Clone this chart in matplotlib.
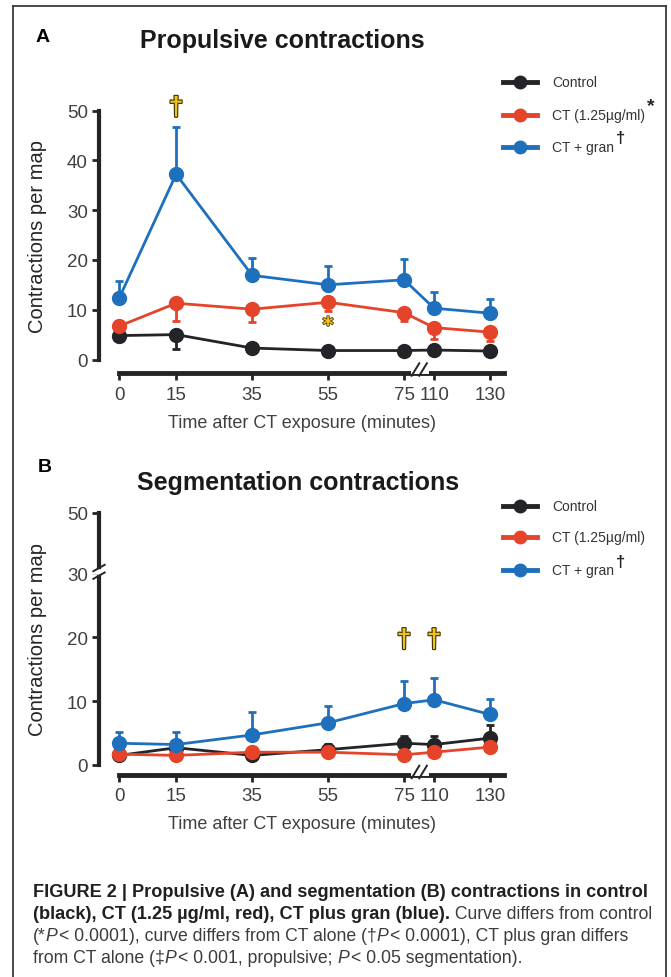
import matplotlib
matplotlib.use("Agg")
import matplotlib.pyplot as plt
import matplotlib.patheffects as pe
from matplotlib.lines import Line2D

# --- data -------------------------------------------------------------
time_labels = ["0", "15", "35", "55", "75", "110", "130"]

# propulsive contractions (panel A)
prop_control = [4.8, 5.0, 2.3, 1.8, 1.8, 1.9, 1.7]
prop_control_err = [0.4, 2.9, 0.3, 0.3, 0.3, 0.3, 0.6]
prop_ct = [6.7, 11.3, 10.1, 11.5, 9.4, 6.4, 5.5]
prop_ct_err = [1.1, 3.6, 2.6, 1.8, 1.7, 2.3, 1.8]
prop_gran = [12.3, 37.2, 16.9, 15.0, 16.0, 10.3, 9.3]
prop_gran_err = [3.5, 9.4, 3.5, 3.7, 4.1, 3.3, 2.8]

# segmentation contractions (panel B)
seg_control = [1.5, 2.7, 1.5, 2.4, 3.4, 3.2, 4.2]
seg_control_err = [0.2, 0.3, 0.2, 0.9, 1.2, 1.4, 2.1]
seg_ct = [1.7, 1.5, 2.0, 2.0, 1.6, 2.0, 2.8]
seg_ct_err = [0.2, 0.2, 0.2, 0.3, 0.2, 0.3, 0.4]
seg_gran = [3.4, 3.2, 4.7, 6.6, 9.6, 10.2, 7.9]
seg_gran_err = [1.8, 1.9, 3.6, 2.6, 3.6, 3.4, 2.4]

# --- layout helpers -----------------------------------------------------
W, H = 671, 978
XPOS = [0, 15, 35, 55, 75, 82.9, 97.6]   # broken time axis (after 75)
BLACK, RED, BLUE, GOLD = "#222428", "#e5432a", "#1e70bd", "#f2c21b"
SANS = ["Liberation Sans", "DejaVu Sans"]
GREY = "#404040"


def fx(x):
    return x / W


def fy(y):
    return 1 - y / H


fig = plt.figure(figsize=(W / 100, H / 100), dpi=100)
renderer = fig.canvas.get_renderer()

# figure frame
for xs, ys in [([13, 13], [7, H + 5]), ([13, 666], [7, 7]), ([666, 666], [7, H + 5])]:
    fig.add_artist(Line2D([fx(v) for v in xs], [fy(v) for v in ys],
                          color="#3a3a3a", lw=1.3))


def panel(top_px, zero_px, ymax, yticks, ylabels, series, outward):
    ax = fig.add_axes([fx(99), fy(zero_px), fx(504) - fx(99),
                       (zero_px - top_px) / H])
    ax.set_xlim(-5.3, 101.3)
    ax.set_ylim(0, ymax)
    ax.patch.set_alpha(0)
    for s in ["top", "right"]:
        ax.spines[s].set_visible(False)
    ax.spines["left"].set_linewidth(3)
    ax.spines["left"].set_color(BLACK)
    ax.spines["bottom"].set_linewidth(3.5)
    ax.spines["bottom"].set_color(BLACK)
    ax.spines["bottom"].set_position(("outward", outward))
    ax.spines["bottom"].set_bounds(0, 101.3)
    ax.set_yticks(yticks)
    ax.set_yticklabels(ylabels, family=SANS, fontsize=13.5, color=GREY)
    ax.set_xticks(XPOS)
    ax.set_xticklabels(time_labels, family=SANS, fontsize=13.5, color=GREY)
    ax.tick_params(axis="y", length=5, width=2, color=BLACK, pad=3)
    ax.tick_params(axis="x", length=5, width=2, color=BLACK, pad=4)
    ax.set_ylabel("Contractions per map", family=SANS, fontsize=14.5,
                  color=BLACK)
    ax.yaxis.set_label_coords(-0.128, 0.5)
    ax.set_xlabel("Time after CT exposure (minutes)", family=SANS,
                  fontsize=13, color=GREY, labelpad=8)

    for vals, errs, color, down in series:
        lo = errs if down else [0] * len(errs)
        hi = [0] * len(errs) if down else errs
        ax.errorbar(XPOS, vals, yerr=[lo, hi], color=color, lw=2,
                    elinewidth=2, capsize=3, capthick=2, marker="o",
                    markersize=10, mec=color, mfc=color, clip_on=False)

    # break mark on the time axis between 75 and 110
    trans = ax.get_xaxis_transform()
    off = -outward / (zero_px - top_px)
    ax.plot([77.6, 80.4], [off, off], transform=trans, color="white",
            lw=5, clip_on=False, zorder=5)
    for xb in (77.6, 79.6):
        ax.plot([xb - 0.6, xb + 1.4], [off - 0.025, off + 0.025],
                transform=trans, color=BLACK, lw=1.4, clip_on=False,
                zorder=6)
    return ax


def dagger(ax, x, y):
    ax.text(x, y, "\u2020", ha="center", va="center", fontsize=19,
            color=GOLD, family=SANS, fontweight="bold",
            path_effects=[pe.withStroke(linewidth=1.6, foreground="#3a3000")])


def legend(rows_px, marks):
    labels = ["Control", "CT (1.25\u00b5g/ml)", "CT + gran"]
    for y, lab, col, mk in zip(rows_px, labels, [BLACK, RED, BLUE], marks):
        fig.add_artist(Line2D([fx(503), fx(537)], [fy(y), fy(y)], color=col,
                              lw=3.5))
        fig.add_artist(Line2D([fx(520)], [fy(y)], marker="o", ms=9,
                              color=col))
        t = fig.text(fx(552), fy(y), lab, family=SANS, fontsize=10,
                     color="#333333", va="center")
        if mk:
            bb = t.get_window_extent(renderer)
            fig.text(bb.x1 / W + 0.003, fy(y - 9), mk, family=SANS,
                     fontsize=14 if mk == "*" else 12, fontweight="bold",
                     color=BLACK, va="center")


# panel A
axA = panel(111.5, 360.5, 50, [0, 10, 20, 30, 40, 50],
            ["0", "10", "20", "30", "40", "50"],
            [(prop_control, prop_control_err, BLACK, True),
             (prop_ct, prop_ct_err, RED, True),
             (prop_gran, prop_gran_err, BLUE, False)], 10)
dagger(axA, XPOS[1], 50.5)
axA.text(XPOS[3], 6.8, "*", ha="center", va="center", fontsize=15,
         color=GOLD, fontweight="bold",
         path_effects=[pe.withStroke(linewidth=1.2, foreground="#4a3a00")])
fig.text(fx(36), fy(38), "A", fontsize=14, fontweight="bold", family=SANS,
         va="center", color="black")
fig.text(fx(282), fy(41), "Propulsive contractions", fontsize=18,
         fontweight="bold", family=SANS, ha="center", va="center",
         color="#1a1a1a")
legend([83, 116, 148], [None, "*", "\u2020"])

# panel B (y axis broken between 30 and 50)
axB = panel(514, 766, 39.4, [0, 10, 20, 30, 39.4],
            ["0", "10", "20", "30", "50"],
            [(seg_control, seg_control_err, BLACK, False),
             (seg_ct, seg_ct_err, RED, False),
             (seg_gran, seg_gran_err, BLUE, False)], 7)
dagger(axB, XPOS[4], 19.5)
dagger(axB, XPOS[5], 19.5)
tr = axB.get_yaxis_transform()
axB.plot([-0.012, 0.012], [30.2, 30.2], transform=tr, color="white", lw=4,
         clip_on=False, zorder=5)
for yb in (29.6, 30.8):
    axB.plot([-0.014, 0.014], [yb - 0.5, yb + 0.5], transform=tr,
             color=BLACK, lw=1.4, clip_on=False, zorder=6)
fig.text(fx(38), fy(468), "B", fontsize=14, fontweight="bold", family=SANS,
         va="center", color="black")
fig.text(fx(298), fy(483), "Segmentation contractions", fontsize=18,
         fontweight="bold", family=SANS, ha="center", va="center",
         color="#1a1a1a")
legend([507, 538, 571], [None, None, "\u2020"])

# --- caption ----------------------------------------------------------------
caption = [
    [("FIGURE 2 | Propulsive (A) and segmentation (B) contractions in control", "b")],
    [("(black), CT (1.25 \u00b5g/ml, red), CT plus gran (blue).", "b"),
     (" Curve differs from control", "r")],
    [("(*", "r"), ("P", "i"), ("< 0.0001), curve differs from CT alone (\u2020", "r"),
     ("P", "i"), ("< 0.0001), CT plus gran differs", "r")],
    [("from CT alone (\u2021", "r"), ("P", "i"), ("< 0.001, propulsive; ", "r"),
     ("P", "i"), ("< 0.05 segmentation).", "r")],
]


def width_at(text, size, weight):
    probe = fig.text(0, 0, text, family=SANS, fontsize=size,
                     fontweight=weight)
    w = probe.get_window_extent(renderer).width
    probe.remove()
    return w


# fit bold size to line 1 and regular size to line 3 of the reference
bold_size = 10 * 612 / width_at(caption[0][0][0], 10, "bold")
line3 = "".join(t for t, _ in caption[2])
reg_size = 10 * 594 / width_at(line3, 10, "normal")

for i, parts in enumerate(caption):
    x = 33
    y = 893 + 22 * i
    for txt, st in parts:
        t = fig.text(fx(x), fy(y), txt, family=SANS,
                     fontsize=bold_size if st == "b" else reg_size,
                     va="center",
                     fontweight="bold" if st == "b" else "normal",
                     fontstyle="italic" if st == "i" else "normal",
                     color="#231f20" if st == "b" else "#3c3c3c")
        x = t.get_window_extent(renderer).x1 + (1.5 if st == "i" else 0)

fig.savefig("out.png", dpi=100)
